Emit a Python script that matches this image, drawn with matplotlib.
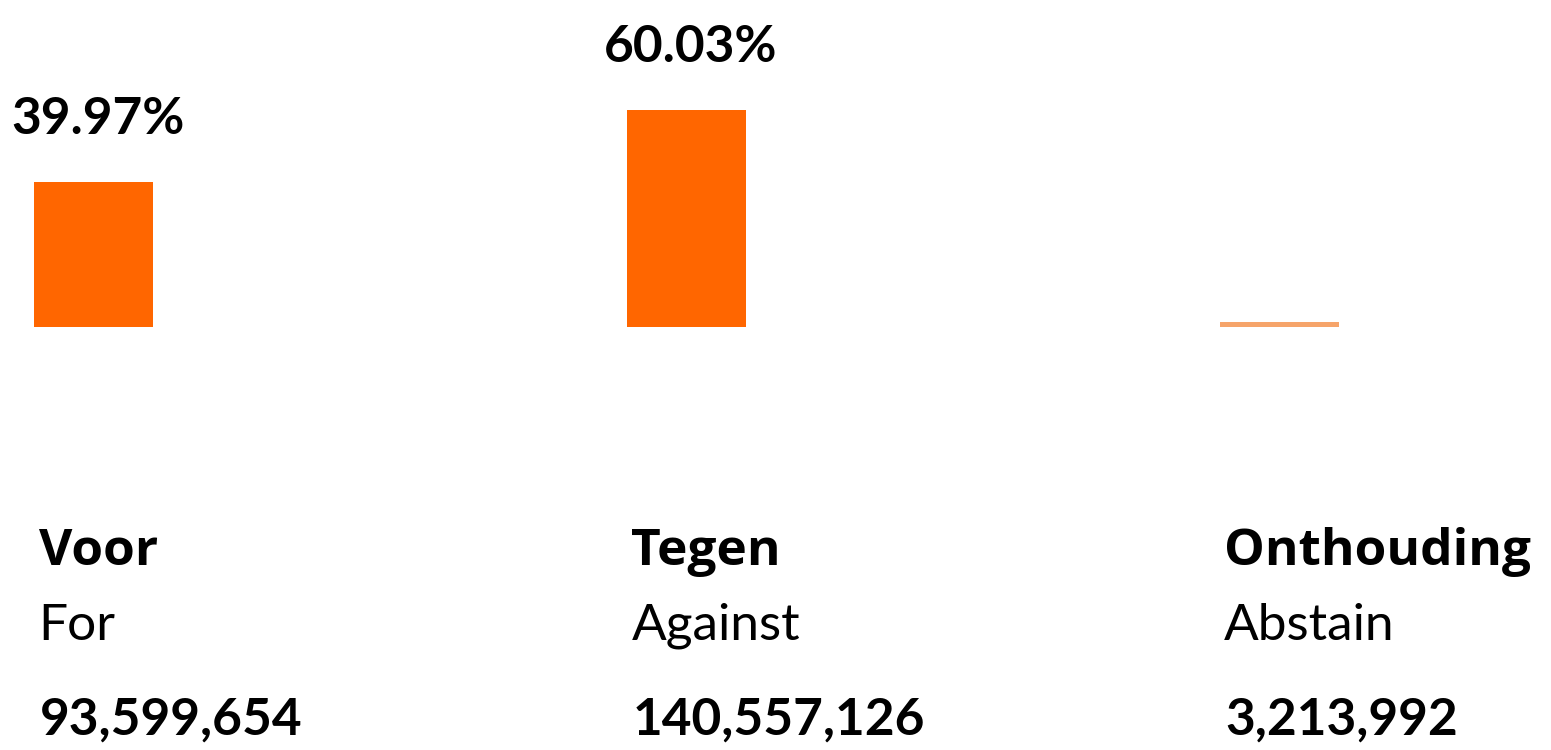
import matplotlib.pyplot as plt

# vote results
categories_nl = ["Voor", "Tegen", "Onthouding"]
categories_en = ["For", "Against", "Abstain"]
votes = [93599654, 140557126, 3213992]
pct_labels = ["39.97%", "60.03%", None]

total = sum(votes)
shares = [v / total * 100 for v in votes]

bar_colors = ["#ff6600", "#ff6600", "#f6a46a"]

plt.rcParams["font.family"] = ["Lato", "DejaVu Sans"]

fig = plt.figure(figsize=(15.51, 7.5), dpi=100)
ax = fig.add_axes([0, 0, 1, 1])

x = list(range(len(categories_nl)))
bars = ax.bar(x, shares, width=0.2, color=bar_colors)

# axis limits chosen so the bars land where they sit in the original
ax.set_xlim(-0.158, 2.458)
ax.set_ylim(-115.0, 89.0)
ax.axis("off")

for rect, lab in zip(bars, pct_labels):
    if lab is None:
        continue
    ax.annotate(lab, (rect.get_x() + rect.get_width() / 2, rect.get_height()),
                xytext=(3, 28), textcoords="offset points",
                ha="center", va="bottom", fontsize=37, fontweight="bold")

# text block under each bar, left-aligned with the bar
for rect, nl, en, v in zip(bars, categories_nl, categories_en, votes):
    left = rect.get_x()
    ax.annotate(nl, (left, 0), xytext=(3, -171), textcoords="offset points",
                ha="left", va="baseline", fontsize=37, fontweight="bold",
                family=["Open Sans", "DejaVu Sans"])
    ax.annotate(en, (left, 0), xytext=(3, -225), textcoords="offset points",
                ha="left", va="baseline", fontsize=37)
    ax.annotate(f"{v:,}", (left, 0), xytext=(4, -293), textcoords="offset points",
                ha="left", va="baseline", fontsize=37, fontweight="bold")

fig.savefig("out.png", dpi=100)
